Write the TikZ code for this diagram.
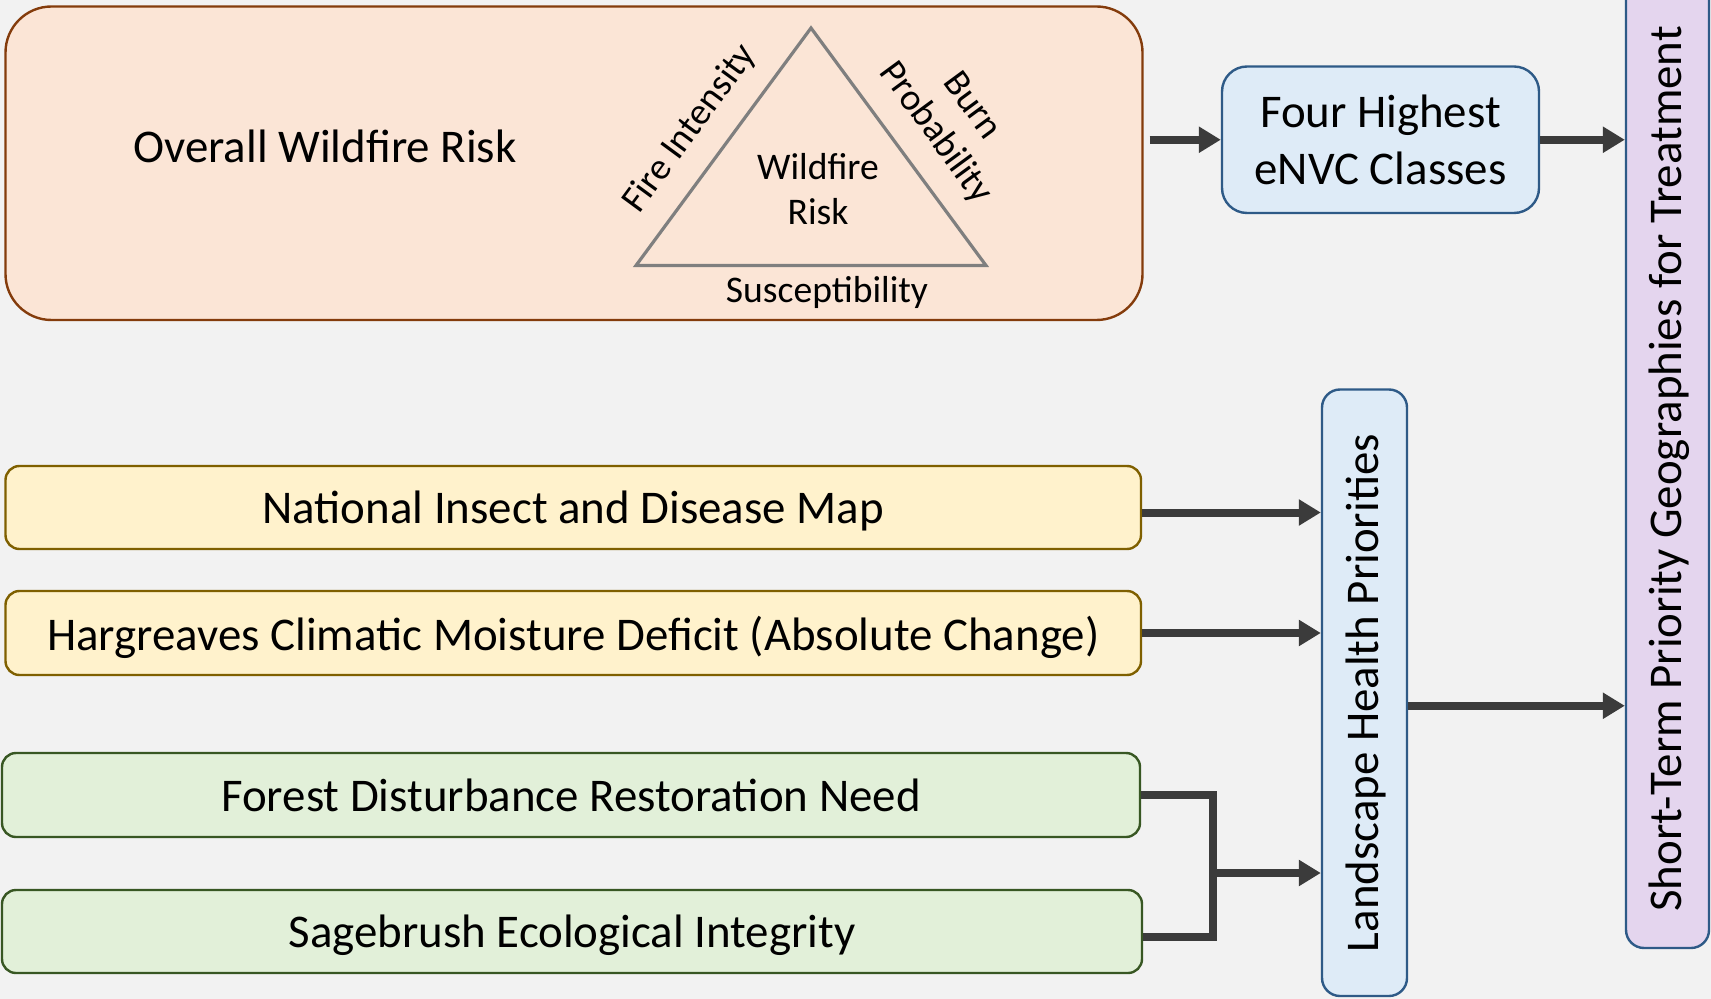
\documentclass[tikz,border=0pt]{standalone}
\usepackage{fontspec}
\setmainfont{Carlito}
\usetikzlibrary{arrows.meta}
\definecolor{bgc}{HTML}{F2F2F2}
\definecolor{orfill}{HTML}{FBE5D6}
\definecolor{ordraw}{HTML}{843C0C}
\definecolor{blfill}{HTML}{DEEBF7}
\definecolor{bldraw}{HTML}{2E5A87}
\definecolor{pufill}{HTML}{E4D5EE}
\definecolor{yefill}{HTML}{FFF2CC}
\definecolor{yedraw}{HTML}{7F6000}
\definecolor{grfill}{HTML}{E2F0D9}
\definecolor{grdraw}{HTML}{385723}
\definecolor{arrc}{HTML}{3B3B3B}
\definecolor{tric}{HTML}{7F7F7F}
\newcommand{\bigtxt}{\fontsize{23.45}{28.4}\selectfont}
\newcommand{\smalltxt}{\fontsize{18.8}{22.5}\selectfont}
\begin{document}
\begin{tikzpicture}[x=0.5pt,y=-0.5pt,
  box/.style={draw, line width=1.2pt, inner sep=0pt, align=center, font=\bigtxt, text=black},
  onebox/.style={box, text depth=0pt},
  arr/.style={draw=arrc, line width=4pt, -{Triangle[length=11pt,width=12.5pt]}},
  conn/.style={draw=arrc, line width=4pt},
  tlabel/.style={font=\smalltxt, align=center, inner sep=0pt},
  btext/.style={font=\bigtxt, align=center, inner sep=0pt}]
\useasboundingbox (0,0) rectangle (1711,999);
\fill[bgc] (0,0) rectangle (1711,999);
% top wildfire box
\node[box, fill=orfill, draw=ordraw, rounded corners=23pt, minimum width=568.5pt, minimum height=156.75pt] (orange) at (574,163.25) {};
\node[btext] (owr) at (325,146) {Overall Wildfire Risk};
\coordinate (ta) at (811,28);
\coordinate (tl) at (636,265.5);
\coordinate (tr) at (986,265.5);
\draw[tric, line width=1.6pt] (ta) -- (tl) -- (tr) -- cycle;
\node[tlabel] (wr) at (818,189) {Wildfire\\Risk};
\node[tlabel] (sus) at (827,292) {Susceptibility};
\node[tlabel, rotate=53.7] (fi) at (690,129) {Fire Intensity};
\node[tlabel, rotate=-53.7] (bp) at (953,120) {Burn\\Probability};
% four highest
\node[box, fill=blfill, draw=bldraw, rounded corners=12.5pt, minimum width=158.5pt, minimum height=73.25pt] (four) at (1380.5,139.75) {Four Highest\\eNVC Classes};
% short-term
\node[box, fill=pufill, draw=bldraw, rounded corners=9pt, minimum width=41.5pt, minimum height=484pt] (short) at (1667.5,464) {};
\node[btext, rotate=90] (shorttxt) at (1669,469) {Short-Term Priority Geographies for Treatment};
% landscape
\node[box, fill=blfill, draw=bldraw, rounded corners=9pt, minimum width=42.5pt, minimum height=303.25pt] (land) at (1364.5,692.75) {};
\node[btext, rotate=90] (landtxt) at (1366,693) {Landscape Health Priorities};
% inputs
\node[onebox, fill=yefill, draw=yedraw, rounded corners=7pt, minimum width=567.75pt, minimum height=41.5pt] (nat) at (573.25,507.5) {National Insect and Disease Map};
\node[onebox, fill=yefill, draw=yedraw, rounded corners=7pt, minimum width=567.75pt, minimum height=42pt] (harg) at (573.25,633) {Hargreaves Climatic Moisture Deficit (Absolute Change)};
\node[onebox, fill=grfill, draw=grdraw, rounded corners=7pt, minimum width=569pt, minimum height=42pt] (forest) at (571,795) {Forest Disturbance Restoration Need};
\node[onebox, fill=grfill, draw=grdraw, rounded corners=7pt, minimum width=570pt, minimum height=41.5pt] (sage) at (572,931.5) {Sagebrush Ecological Integrity};
% connectors
\draw[arr] (orange.east |- four.west) ++(3pt,0) -- (four.west);
\draw[arr] (four.east) -- (four.east -| short.west);
\coordinate (nl) at ([yshift=-2.5pt]nat.east);
\draw[arr] (nl) -- (nl -| land.west);
\draw[arr] (harg.east) -- (harg.east -| land.west);
\coordinate (ls) at ([yshift=-6.5pt]land.east);
\draw[arr] (ls) -- (ls -| short.west);
\coordinate (mx) at (1213,873);
\coordinate (se) at ([yshift=-2.75pt]sage.east);
\draw[conn] (forest.east) -| (mx) |- (se);
\draw[arr] (mx) -- (mx -| land.west);
\end{tikzpicture}
\end{document}
